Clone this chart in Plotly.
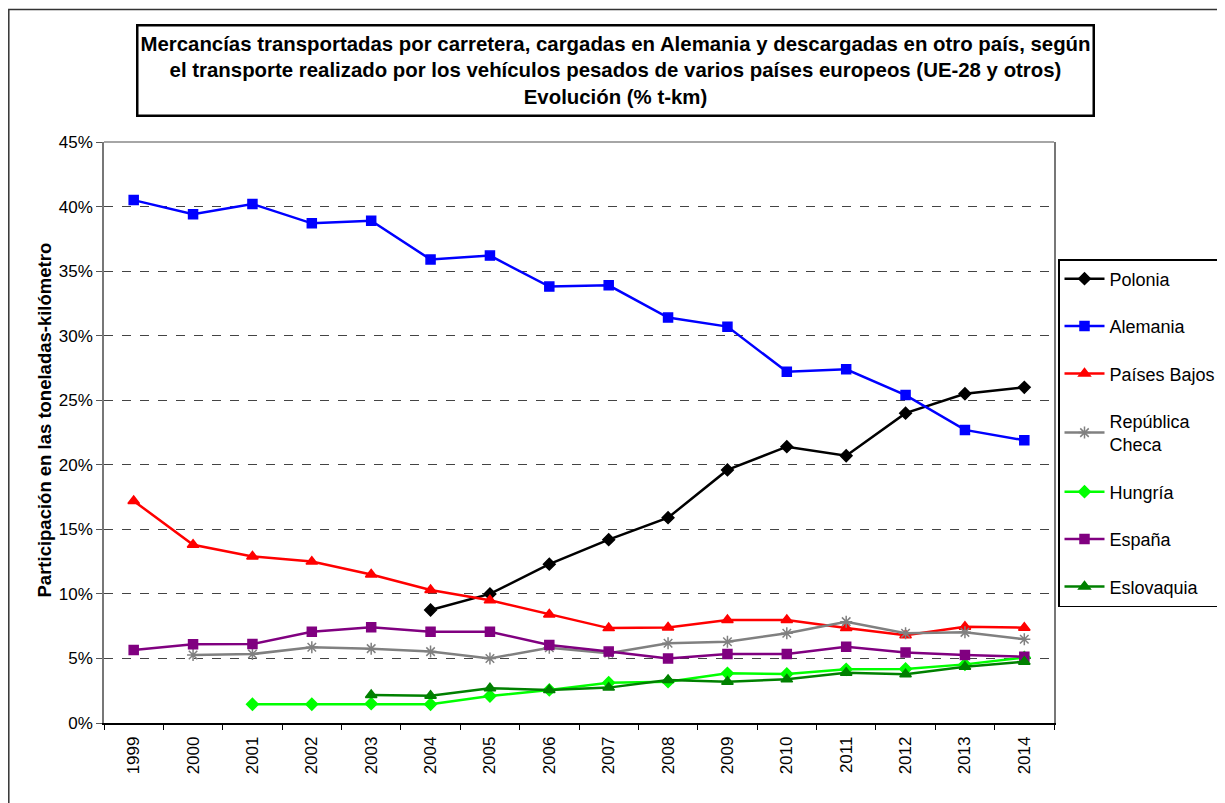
import plotly.graph_objects as go

years = [str(y) for y in range(1999, 2015)]

polonia = [None, None, None, None, None, 8.75, 10.0, 12.3, 14.2, 15.9, 19.6, 21.4, 20.7, 24.0, 25.5, 26.0]
alemania = [40.5, 39.4, 40.2, 38.7, 38.9, 35.9, 36.2, 33.8, 33.9, 31.4, 30.7, 27.2, 27.4, 25.4, 22.7, 21.9]
paises_bajos = [17.2, 13.8, 12.9, 12.5, 11.5, 10.3, 9.5, 8.4, 7.35, 7.4, 7.98, 7.98, 7.35, 6.8, 7.46, 7.38]
rep_checa = [None, 5.27, 5.34, 5.86, 5.76, 5.53, 5.0, 5.83, 5.4, 6.17, 6.3, 6.95, 7.85, 6.95, 7.02, 6.48]
hungria = [None, None, 1.45, 1.45, 1.5, 1.45, 2.09, 2.56, 3.12, 3.2, 3.85, 3.8, 4.16, 4.18, 4.54, 5.08]
espana = [5.65, 6.09, 6.12, 7.07, 7.41, 7.07, 7.07, 6.04, 5.53, 5.0, 5.34, 5.34, 5.91, 5.47, 5.27, 5.14]
eslovaquia = [None, None, None, None, 2.17, 2.12, 2.69, 2.56, 2.74, 3.33, 3.2, 3.38, 3.9, 3.77, 4.36, 4.75]

y_ticks = [0, 5, 10, 15, 20, 25, 30, 35, 40, 45]
y_tick_labels = [f"{v}%" for v in y_ticks]

title_text = ("Mercancías transportadas por carretera, cargadas en Alemania y descargadas en otro país, según<br>"
              "el transporte realizado por los vehículos pesados de varios países europeos (UE-28 y otros)<br>"
              "Evolución (% t-km)")
y_title = "Participación en las toneladas-kilómetro"

series = [
    ("Polonia", polonia, "#000000", "diamond", 9),
    ("Alemania", alemania, "#0000FF", "square", 9),
    ("Países Bajos", paises_bajos, "#FF0000", "triangle-up", 10),
    ("República<br>Checa", rep_checa, "#808080", "asterisk-open", 10),
    ("Hungría", hungria, "#00FF00", "diamond", 9),
    ("España", espana, "#800080", "square", 9),
    ("Eslovaquia", eslovaquia, "#008000", "triangle-up", 10),
]

FONT = "Liberation Sans, Arial, sans-serif"

fig = go.Figure()
for i, (name, vals, color, sym, size) in enumerate(series):
    fig.add_trace(go.Scatter(
        x=years, y=vals, name=name, mode="lines+markers",
        line=dict(color=color, width=2.5),
        marker=dict(symbol=sym, size=size, color=color,
                    line=dict(color=color, width=1.5)),
        legendgroup=f"g{i}",
    ))

# page has an 8px body margin; work in page pixels and convert
OFF = 8
W, H = 1225 - OFF, 803 - OFF
L, R, T, B = 104 - OFF, 1054 - OFF, 142 - OFF, 723 - OFF
pw, ph = R - L, B - T

def px_x(x):
    return (x - OFF - L) / pw

def px_y(y):
    return (B - (y - OFF)) / ph

fig.update_layout(
    width=W, height=H,
    margin=dict(l=L, r=W - R, t=T, b=H - B, pad=0, autoexpand=False),
    paper_bgcolor="white", plot_bgcolor="white",
    font=dict(family=FONT, color="black", size=17),
    showlegend=True,
    legend=dict(
        x=px_x(1058), y=px_y(259), xanchor="left", yanchor="top",
        bordercolor="black", borderwidth=1.5, bgcolor="white",
        font=dict(size=18, family=FONT),
        tracegroupgap=21,
        itemwidth=40,
    ),
    xaxis=dict(
        type="category", range=[-0.5, 15.5], tickangle=-90, tickson="boundaries",
        ticks="outside", ticklen=5, tickcolor="black",
        showline=True, linecolor="black", linewidth=1.5,
        showgrid=False, tickfont=dict(size=17, family=FONT),
        ticklabelstandoff=5,
        fixedrange=True,
    ),
    yaxis=dict(
        range=[0, 45], tickvals=y_ticks, ticktext=y_tick_labels,
        ticks="outside", ticklen=6, tickcolor="#555555",
        showline=True, linecolor="#777777", linewidth=1.5, mirror=True,
        showgrid=True, gridcolor="#444444", griddash="dash", gridwidth=1,
        zeroline=False, tickfont=dict(size=17, family=FONT),
        fixedrange=True,
    ),
    shapes=[
        dict(type="line", xref="paper", yref="paper", x0=0, x1=1, y0=1, y1=1,
             line=dict(color="#888888", width=1.5)),
        dict(type="rect", xref="paper", yref="paper",
             x0=px_x(8.8), x1=px_x(1300), y0=px_y(9.5), y1=px_y(900),
             line=dict(color="#333333", width=1.5)),
    ],
    annotations=[
        dict(text=f"<b>{title_text}</b>", xref="paper", yref="paper",
             x=px_x(615), y=px_y(70.5), xanchor="center", yanchor="middle",
             showarrow=False, width=954, height=88, align="center",
             bordercolor="black", borderwidth=2.5, borderpad=0, bgcolor="white",
             font=dict(size=20.4, family=FONT, color="black")),
        dict(text=f"<b>{y_title}</b>", xref="paper", yref="paper",
             x=px_x(43.5), y=px_y(420), xanchor="center", yanchor="middle",
             textangle=-90, showarrow=False,
             font=dict(size=18.5, family=FONT, color="black")),
    ],
)

fig.write_html("out.html")
